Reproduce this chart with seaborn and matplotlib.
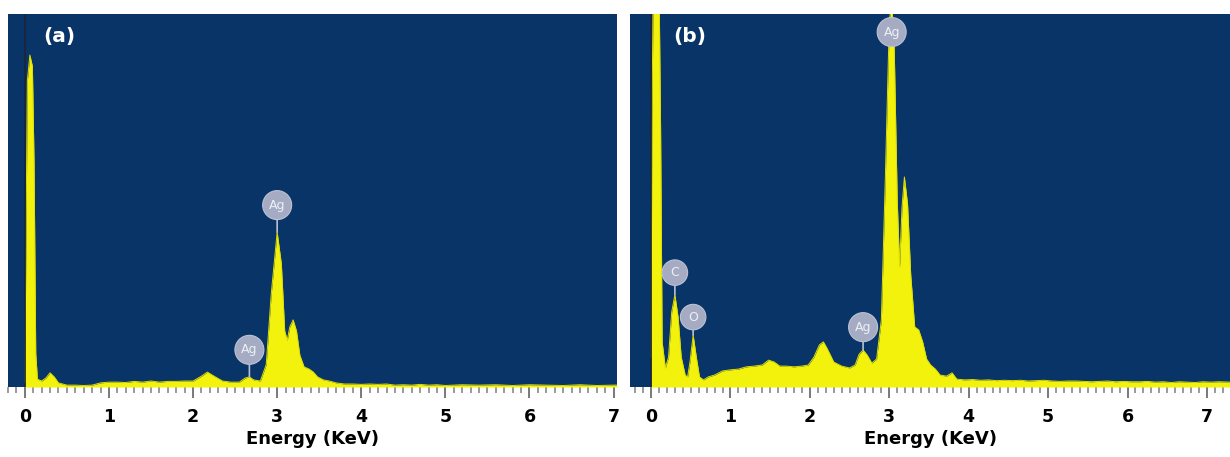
import numpy as np
import pandas as pd
import matplotlib.pyplot as plt
import seaborn as sns
from matplotlib.ticker import MultipleLocator

# Spettro (a)
energy_a = [0.00, 0.01, 0.03, 0.06, 0.09, 0.11, 0.13, 0.15, 0.20, 0.25, 0.30, 0.35, 0.40,
            0.50, 0.60, 0.70, 0.80, 0.90, 1.00, 1.10, 1.20, 1.30, 1.40, 1.50, 1.60, 1.70,
            1.80, 1.90, 2.00, 2.10, 2.17, 2.25, 2.35, 2.45, 2.55, 2.62, 2.67, 2.72, 2.80,
            2.87, 2.93, 3.00, 3.05, 3.09, 3.12, 3.15, 3.19, 3.23, 3.27, 3.32, 3.38, 3.43,
            3.48, 3.55, 3.62, 3.70, 3.80, 3.90, 4.00, 4.10, 4.20, 4.30, 4.40, 4.50, 4.60,
            4.70, 4.80, 4.90, 5.00, 5.20, 5.40, 5.60, 5.80, 6.00, 6.20, 6.40, 6.60, 6.80,
            7.00, 7.04]
counts_a = [11, 300, 820, 890, 860, 600, 90, 21, 16, 24, 38, 27, 11,
            5, 5, 4, 5, 11, 13, 13, 12, 15, 13, 16, 13, 15,
            15, 16, 16, 29, 40, 29, 16, 13, 13, 24, 27, 19, 16,
            60, 250, 415, 330, 150, 125, 161, 180, 150, 85, 54, 48, 40,
            27, 19, 16, 11, 8, 8, 7, 8, 7, 8, 5, 6, 5,
            7, 5, 6, 4, 6, 5, 6, 4, 6, 5, 4, 6, 4,
            5, 5]

# Spettro (b)
energy_b = [0.00, 0.01, 0.03, 0.07, 0.10, 0.12, 0.14, 0.18, 0.22, 0.26, 0.30, 0.34, 0.38,
            0.43, 0.46, 0.49, 0.53, 0.57, 0.61, 0.66, 0.72, 0.80, 0.90, 1.00, 1.10, 1.20,
            1.30, 1.40, 1.48, 1.55, 1.62, 1.70, 1.80, 1.90, 1.98, 2.05, 2.12, 2.17, 2.22,
            2.30, 2.40, 2.50, 2.57, 2.62, 2.67, 2.72, 2.78, 2.84, 2.90, 2.95, 3.00, 3.03,
            3.06, 3.10, 3.13, 3.16, 3.19, 3.23, 3.27, 3.32, 3.37, 3.42, 3.47, 3.52, 3.58,
            3.64, 3.72, 3.79, 3.85, 3.95, 4.05, 4.15, 4.25, 4.35, 4.45, 4.55, 4.65, 4.75,
            4.85, 4.95, 5.05, 5.15, 5.25, 5.35, 5.45, 5.55, 5.65, 5.75, 5.85, 5.95, 6.05,
            6.15, 6.25, 6.35, 6.45, 6.55, 6.65, 6.75, 6.85, 6.95, 7.05, 7.15, 7.29]
counts_b = [80, 700, 1126, 1206, 1100, 700, 120, 51, 80, 201, 247, 188, 80,
            32, 27, 67, 139, 80, 27, 19, 27, 32, 43, 46, 48, 54,
            56, 59, 72, 67, 56, 56, 54, 56, 59, 80, 113, 121, 102,
            67, 56, 51, 59, 88, 99, 86, 64, 75, 180, 560, 980, 1030,
            930, 500, 322, 482, 563, 490, 300, 161, 153, 121, 75, 59, 48,
            32, 29, 38, 21, 19, 20, 18, 19, 17, 18, 17, 18, 16,
            17, 18, 16, 15, 16, 16, 15, 14, 15, 16, 14, 15, 14,
            14, 15, 13, 14, 12, 14, 13, 12, 14, 13, 14, 13]

# Etichette degli elementi: (nome, energia del picco, distanza in punti)
labels_a = [("Ag", 3.00, 19.5), ("Ag", 2.67, 19.5)]
labels_b = [("C", 0.30, 16), ("O", 0.53, 13), ("Ag", 2.67, 16.5)]

sns.set_style("white")
plt.rcParams['font.family'] = ['DejaVu Sans']

fig = plt.figure(figsize=(12.3, 4.57), dpi=100)
ax_a = fig.add_axes([0.0065, 0.1532, 0.4951, 0.8162])
ax_b = fig.add_axes([0.5122, 0.1532, 0.4878, 0.8162])


def draw_panel(ax, energy, counts, xlim, tag, tag_x, labels):
    df = pd.DataFrame({'Energy': energy, 'Counts': counts})
    ax.set_facecolor('#083468')
    ax.fill_between(df['Energy'], 0, df['Counts'], color='#f2f20c', lw=0, zorder=2)
    sns.lineplot(data=df, x='Energy', y='Counts', ax=ax, color='#dede00', lw=0.7, zorder=3)
    ax.axvline(0, color='#1c2634', lw=1.2, zorder=4)
    ax.set_xlim(*xlim)
    ax.set_ylim(0, 1000)
    ax.set_yticks([])
    ax.set_ylabel('')
    ax.xaxis.set_major_locator(MultipleLocator(1))
    ax.xaxis.set_minor_locator(MultipleLocator(0.1))
    ax.tick_params(axis='x', which='major', direction='out', length=8, width=1.3,
                   color='#6e6e6e', labelsize=12.5, labelcolor='black', pad=7, bottom=True)
    ax.tick_params(axis='x', which='minor', direction='out', length=4.5, width=1.1,
                   color='#7e7e7e', bottom=True)
    plt.setp(ax.get_xticklabels(), fontweight='bold')
    ax.set_xlabel('Energy (KeV)', fontsize=13, fontweight='bold', color='black', labelpad=3)
    for s in ax.spines.values():
        s.set_visible(False)
    ax.text(tag_x, 0.965, tag, transform=ax.transAxes, color='white', fontsize=14.5,
            fontweight='bold', va='top', ha='left')

    peaks = dict(zip(energy, counts))
    for name, e, off in labels:
        ax.annotate(name, xy=(e, peaks[e]), xytext=(0, off), textcoords='offset points',
                    ha='center', va='center', fontsize=9, color='#eef0f6', zorder=5,
                    bbox=dict(boxstyle='circle,pad=0.5', fc='#a4abc2', ec='#bcc2d4', lw=0.8),
                    arrowprops=dict(arrowstyle='-', color='#b8bfd2', lw=1.2,
                                    shrinkA=0, shrinkB=0))


draw_panel(ax_a, energy_a, counts_a, (-0.2, 7.04), '(a)', 0.0575, labels_a)
draw_panel(ax_b, energy_b, counts_b, (-0.265, 7.29), '(b)', 0.0717, labels_b)

# Etichetta Ag del picco principale di (b), tagliato in alto
ax_b.annotate('Ag', xy=(3.03, 1000), xytext=(0, -13), textcoords='offset points',
              ha='center', va='center', fontsize=9, color='#eef0f6', zorder=5,
              bbox=dict(boxstyle='circle,pad=0.5', fc='#a4abc2', ec='#bcc2d4', lw=0.8))

plt.savefig('out.png', dpi=100)
